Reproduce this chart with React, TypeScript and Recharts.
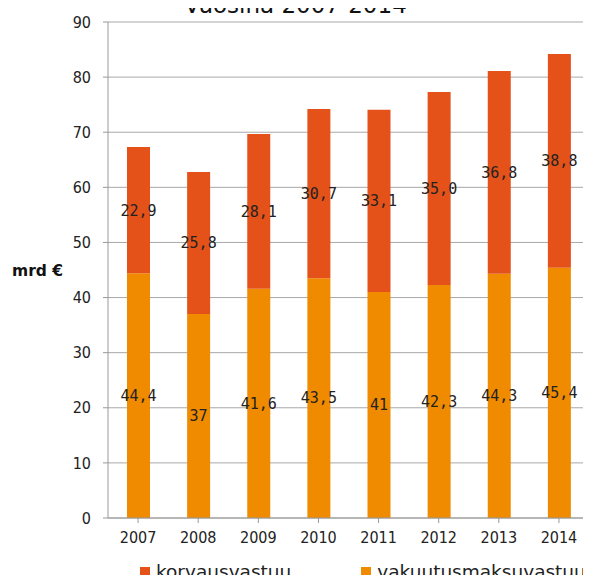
import React from "react";
import { BarChart, Bar, XAxis, YAxis, CartesianGrid, Legend, LabelList } from "recharts";

const years = ["2007", "2008", "2009", "2010", "2011", "2012", "2013", "2014"];
const vakuutusmaksuvastuu = [44.4, 37, 41.6, 43.5, 41, 42.3, 44.3, 45.4];
const korvausvastuu = [22.9, 25.8, 28.1, 30.7, 33.1, 35.0, 36.8, 38.8];
const yTicks = [0, 10, 20, 30, 40, 50, 60, 70, 80, 90];

const COLOR_KORV = "#E4521A";
const COLOR_VAK = "#F08B00";

const data = years.map((year, i) => ({
  year,
  vakuutusmaksuvastuu: vakuutusmaksuvastuu[i],
  korvausvastuu: korvausvastuu[i],
}));

const tickStyle = { fontSize: 16, fill: "#222", fontFamily: "DejaVu Sans Condensed, DejaVu Sans" };
const labelStyle = { fontSize: 15, fill: "#222", fontFamily: "DejaVu Sans Mono" };

function LegendContent() {
  const items = [
    { name: "korvausvastuu", color: COLOR_KORV, pad: 140 },
    { name: "vakuutusmaksuvastuu", color: COLOR_VAK, pad: 70 },
  ];
  return (
    <div
      style={{
        height: 24,
        display: "flex",
        alignItems: "center",
        fontFamily: "DejaVu Sans",
        fontSize: 18.5,
        lineHeight: "22px",
        color: "#222",
      }}
    >
      {items.map((it) => (
        <div key={it.name} style={{ display: "flex", alignItems: "center", marginLeft: it.pad }}>
          <span style={{ width: 10, height: 10, background: it.color, marginRight: 6 }} />
          <span>{it.name}</span>
        </div>
      ))}
    </div>
  );
}

export default function App() {
  return (
    <div style={{ position: "relative", width: 591, height: 583, margin: -8, overflow: "hidden", background: "#fff" }}>
      <div
        style={{
          position: "absolute",
          top: -6,
          left: 0,
          width: 591,
          textAlign: "center",
          fontFamily: "DejaVu Sans",
          fontSize: 23,
          lineHeight: "23px",
          color: "#111",
          zIndex: 2,
        }}
      >
        Vuosina 2007-2014
      </div>
      <BarChart width={591} height={583} data={data} margin={{ top: 22, right: 2, bottom: 0, left: 0 }}>
        <CartesianGrid vertical={false} stroke="#a8a8a8" />
        <XAxis
          dataKey="year"
          height={41}
          tick={tickStyle}
          tickSize={5}
          tickMargin={9}
          axisLine={{ stroke: "#999" }}
          tickLine={{ stroke: "#999" }}
          interval={0}
        />
        <YAxis
          domain={[0, 90]}
          ticks={yTicks}
          width={108}
          tick={tickStyle}
          tickSize={5}
          tickMargin={12}
          axisLine={{ stroke: "#999" }}
          tickLine={{ stroke: "#999" }}
          label={{
            value: "mrd €",
            position: "insideLeft",
            offset: 12,
            style: { fontFamily: "DejaVu Sans", fontWeight: "bold", fontSize: 15.5, fill: "#111", textAnchor: "start" },
          }}
        />
        <Legend
          verticalAlign="bottom"
          content={<LegendContent />}
          wrapperStyle={{ top: 560, bottom: "auto", left: 0, width: 591 }}
        />
        <Bar dataKey="vakuutusmaksuvastuu" stackId="a" fill={COLOR_VAK} barSize={23} isAnimationActive={false}>
          <LabelList
            dataKey="vakuutusmaksuvastuu"
            position="center"
            style={labelStyle}
            formatter={(v: number) => String(v).replace(".", ",")}
          />
        </Bar>
        <Bar dataKey="korvausvastuu" stackId="a" fill={COLOR_KORV} barSize={23} isAnimationActive={false}>
          <LabelList
            dataKey="korvausvastuu"
            position="center"
            style={labelStyle}
            formatter={(v: number) => Number(v).toFixed(1).replace(".", ",")}
          />
        </Bar>
      </BarChart>
    </div>
  );
}
